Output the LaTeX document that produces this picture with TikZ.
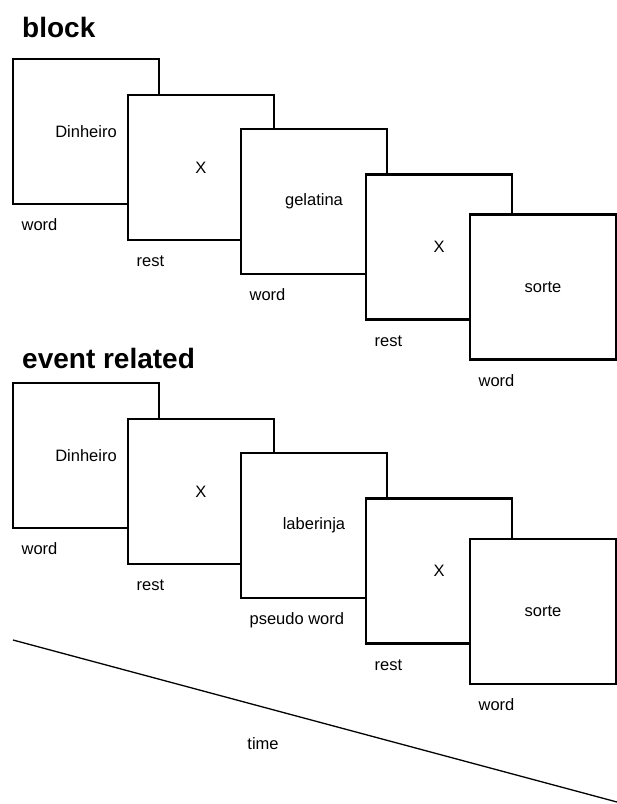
\documentclass[tikz,border=0pt]{standalone}
\usepackage{fontspec}
\setmainfont{Liberation Sans}
\begin{document}
\begin{tikzpicture}[x=1pt,y=-1pt,
  frame/.style={draw=black,fill=white,line width=2.2pt,minimum width=146pt,minimum height=145pt,inner sep=0pt,font=\fontsize{16.5}{18}\selectfont},
  lbl/.style={anchor=base west,inner sep=0pt,font=\fontsize{16.5}{18}\selectfont},
  heading/.style={anchor=base west,inner sep=0pt,font=\fontsize{28}{32}\selectfont\bfseries}]
\useasboundingbox (0,0) rectangle (617,804);

% ---- block design ----
\node[heading] (tblock) at (22,37) {block};
\node[frame] (b1) at (86,131.5) {Dinheiro};
\node[frame] (b2) at (201,167.5) {X};
\node[frame] (b3) at (314,201.5) {gelatina};
\node[frame] (b4) at (439,247) {X};
\node[frame] (b5) at (543,287) {sorte};
\node[lbl] (lb1) at ([xshift=9.5pt,yshift=-25.5pt]b1.south west) {word};
\node[lbl] (lb2) at ([xshift=9.5pt,yshift=-25.5pt]b2.south west) {rest};
\node[lbl] (lb3) at ([xshift=9.5pt,yshift=-25.5pt]b3.south west) {word};
\node[lbl] (lb4) at ([xshift=9.5pt,yshift=-25.5pt]b4.south west) {rest};
\node[lbl] (lb5) at ([xshift=9.5pt,yshift=-25.5pt]b5.south west) {word};

% ---- event-related design ----
\node[heading] (tevent) at (22,368) {event related};
\node[frame] (e1) at (86,455.5) {Dinheiro};
\node[frame] (e2) at (201,491.5) {X};
\node[frame] (e3) at (314,525.5) {laberinja};
\node[frame] (e4) at (439,571) {X};
\node[frame] (e5) at (543,611.5) {sorte};
\node[lbl] (le1) at ([xshift=9.5pt,yshift=-25.5pt]e1.south west) {word};
\node[lbl] (le2) at ([xshift=9.5pt,yshift=-25.5pt]e2.south west) {rest};
\node[lbl] (le3) at ([xshift=9.5pt,yshift=-25.5pt]e3.south west) {pseudo word};
\node[lbl] (le4) at ([xshift=9.5pt,yshift=-25.5pt]e4.south west) {rest};
\node[lbl] (le5) at ([xshift=9.5pt,yshift=-25.5pt]e5.south west) {word};

% ---- time axis ----
\coordinate (t0) at (13,640);
\coordinate (t1) at (617,802);
\draw[line width=1.3pt] (t0) -- (t1);
\node[lbl,anchor=base] (tlabel) at (263,749) {time};
\end{tikzpicture}
\end{document}
